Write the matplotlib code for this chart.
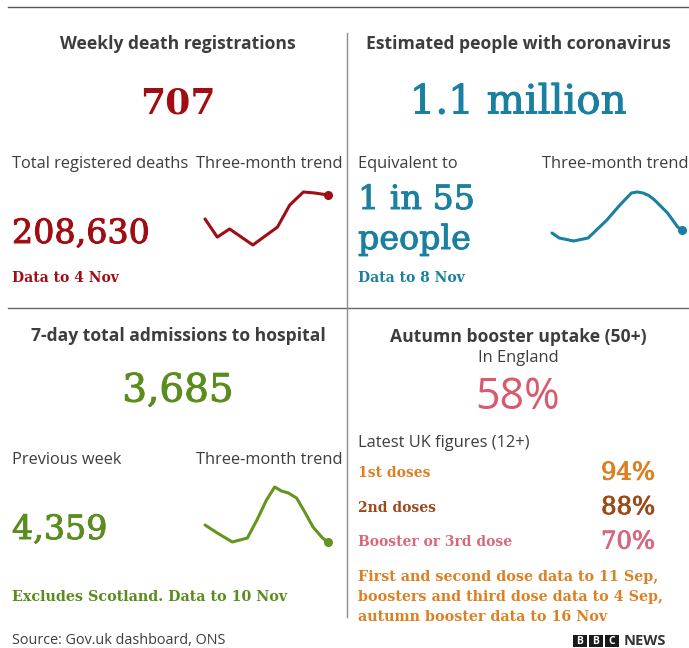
import matplotlib.pyplot as plt
import matplotlib.patheffects as pe
from matplotlib.patches import Rectangle

# three-month trend values
death_days = [0, 9, 18, 35, 53, 62, 72, 80, 90]
death_vals = [562, 484, 519, 450, 527, 622, 678, 674, 665]

covid_days = [0, 5, 15, 25, 38, 47, 52, 55, 59, 63, 67, 71, 80, 87, 90]
covid_vals = [1.04, 0.94, 0.88, 0.94, 1.30, 1.60, 1.75, 1.84, 1.86, 1.84, 1.79, 1.70, 1.44, 1.16, 1.10]

adm_days = [0, 9, 20, 31, 38, 45, 51, 56, 61, 67, 73, 79, 86, 90]
adm_vals = [4700, 4220, 3680, 3920, 5000, 6200, 6980, 6740, 6620, 6320, 5480, 4580, 3920, 3680]

# headline figures
weekly_deaths = "707"
total_deaths = "208,630"
people_covid = "1.1 million"
people_ratio = ["1 in 55", "people"]
admissions = "3,685"
admissions_prev = "4,359"
booster_50 = "58%"
dose_labels = ["1st doses", "2nd doses", "Booster or 3rd dose"]
dose_values = ["94%", "88%", "70%"]

W, H = 689, 648
SANS = "Open Sans"
SERIF = "DejaVu Serif"
GREY = "#3d3d3d"
RED = "#a00d12"
TEAL = "#1a80a0"
GREEN = "#5a8c1e"
ORANGE = "#dc8024"
BROWN = "#9b4a1b"
PINK = "#d9596e"
dose_colors = [ORANGE, BROWN, "#d9687d"]

fig = plt.figure(figsize=(W / 100, H / 100), dpi=100)
ax = fig.add_axes([0, 0, 1, 1])
ax.set_xlim(0, W)
ax.set_ylim(H, 0)
ax.axis("off")

# frame lines
ax.plot([8, W], [7, 7], color="#555555", lw=1)
ax.plot([8, W], [308, 308], color="#666666", lw=1)
ax.plot([347, 347], [33, 617], color="#8c8c8c", lw=1)


def title(x, y, s):
    ax.text(x, y, s, ha="center", va="center", fontsize=12.6, fontweight="bold",
            family=SANS, color=GREY)


def label(x, y, s, ha="left"):
    ax.text(x, y, s, ha=ha, va="center", fontsize=11.8, family=SANS, color=GREY)


def big(x, y, s, size, color, ha="left"):
    # slightly heavier than plain DejaVu Serif
    ax.text(x, y, s, ha=ha, va="center", fontsize=size, family=SERIF, color=color,
            path_effects=[pe.withStroke(linewidth=0.7, foreground=color)])


def note(x, y, s, color, size=10):
    ax.text(x, y, s, ha="left", va="center", fontsize=size, fontweight="bold",
            family=SERIF, color=color)


# --- weekly deaths
title(178, 44, "Weekly death registrations")
ax.text(178, 103, weekly_deaths, ha="center", va="center", fontsize=26,
        fontweight="bold", family=SERIF, color=RED)
label(12, 164, "Total registered deaths")
label(343, 164, "Three-month trend", ha="right")
big(12, 234, total_deaths, 24, RED)
note(12, 278, "Data to 4 Nov", RED)

# --- people with coronavirus
title(518, 44, "Estimated people with coronavirus")
big(518, 103, people_covid, 29, TEAL, ha="center")
label(358, 164, "Equivalent to")
label(688, 164, "Three-month trend", ha="right")
big(358, 200, people_ratio[0], 24, TEAL)
big(358, 240, people_ratio[1], 24, TEAL)
note(358, 278, "Data to 8 Nov", TEAL)

# --- hospital admissions
title(178, 336, "7-day total admissions to hospital")
big(178, 391, admissions, 28, GREEN, ha="center")
label(12, 460, "Previous week")
label(343, 460, "Three-month trend", ha="right")
big(12, 530, admissions_prev, 24, GREEN)
note(12, 597, "Excludes Scotland. Data to 10 Nov", GREEN, 10.3)

# --- booster uptake
title(518, 337, "Autumn booster uptake (50+)")
label(518, 358, "In England", ha="center")
ax.text(518, 398, booster_50, ha="center", va="center", fontsize=31, family=SANS, color=PINK)
label(358, 443, "Latest UK figures (12+)")
for i, (lab, val) in enumerate(zip(dose_labels, dose_values)):
    yy = 473 + i * 34.5
    note(358, yy, lab, dose_colors[i])
    big(655, yy, val, 17.5, dose_colors[i], ha="right")
notes = ["First and second dose data to 11 Sep,",
         "boosters and third dose data to 4 Sep,",
         "autumn booster data to 16 Nov"]
for i, n in enumerate(notes):
    note(358, 577 + i * 20, n, ORANGE, 10.3)

# footer
ax.text(12, 641, "Source: Gov.uk dashboard, ONS", ha="left", va="center",
        fontsize=10.4, family=SANS, color=GREY)
for i, ch in enumerate("BBC"):
    x0 = 573 + i * 16
    ax.add_patch(Rectangle((x0, 635), 14, 12, color="#1a1a1a", lw=0))
    ax.text(x0 + 7, 641.5, ch, ha="center", va="center", fontsize=7.5,
            fontweight="bold", family=SANS, color="white")
ax.text(624, 641, "NEWS", ha="left", va="center", fontsize=10.5,
        fontweight="bold", family=SANS, color="#333333")


# sparklines
def spark(box, days, vals, color):
    x0, y0, x1, y1 = box
    sa = fig.add_axes([x0 / W, 1 - y1 / H, (x1 - x0) / W, (y1 - y0) / H])
    sa.plot(days, vals, color=color, lw=2.2, solid_capstyle="round",
            solid_joinstyle="round", clip_on=False)
    sa.plot(days[-1], vals[-1], "o", color=color, ms=5.5, clip_on=False)
    sa.set_xlim(days[0], days[-1])
    sa.set_ylim(min(vals), max(vals))
    sa.axis("off")


spark((205, 192, 328, 245), death_days, death_vals, RED)
spark((552, 192, 682, 241), covid_days, covid_vals, TEAL)
spark((205, 487, 328, 542), adm_days, adm_vals, "#63951f")

fig.savefig("out.png", dpi=100)
